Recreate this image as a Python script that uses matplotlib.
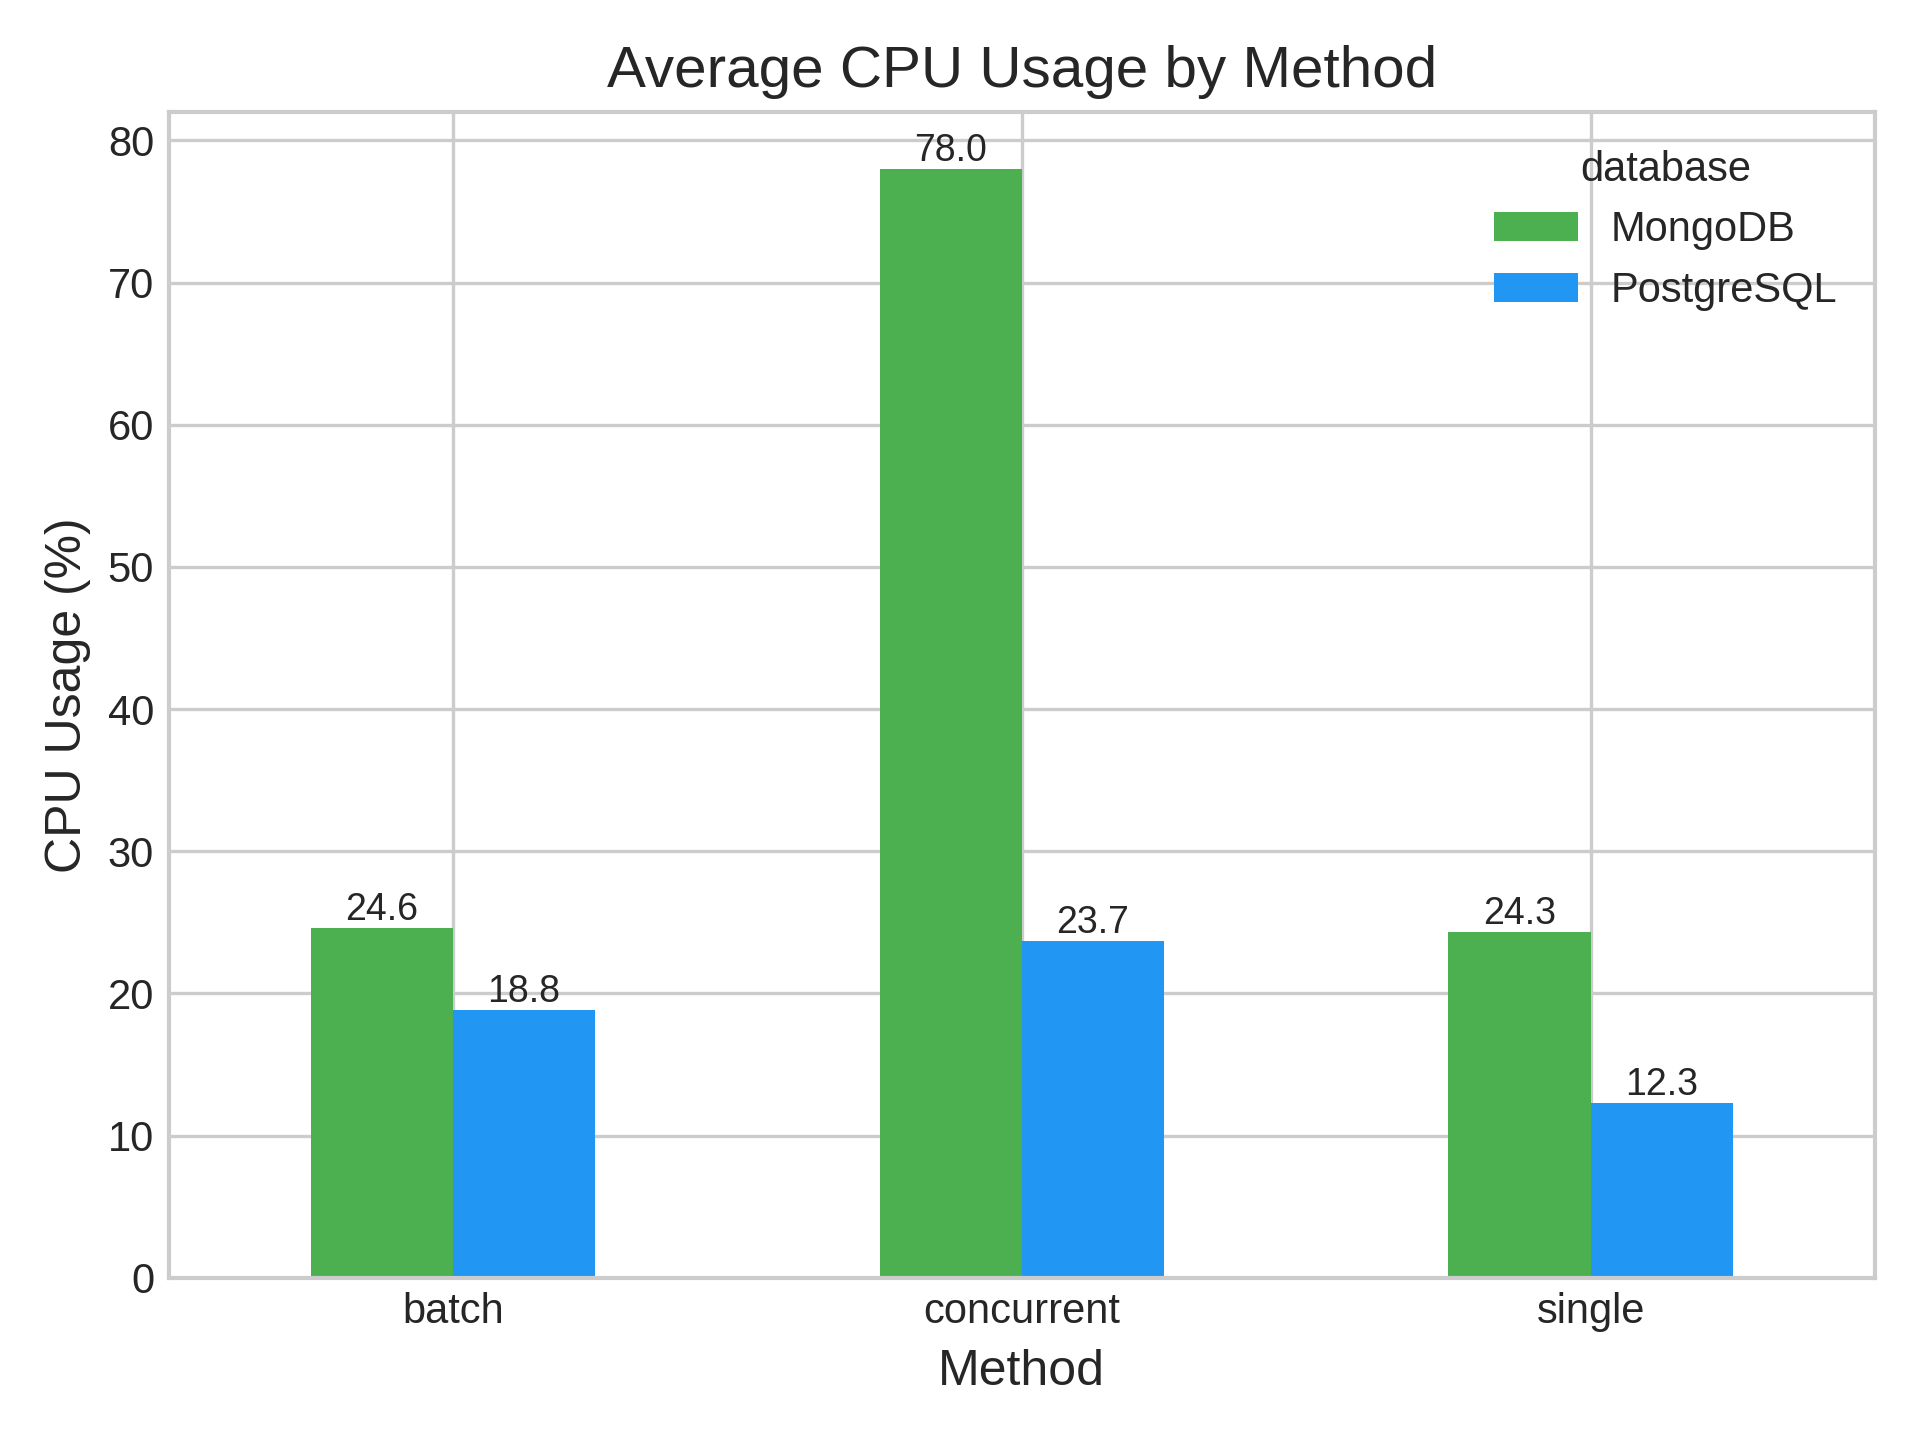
import pandas as pd
import matplotlib
matplotlib.use("Agg")
import matplotlib.pyplot as plt

# values
methods = ["batch", "concurrent", "single"]
mongodb = [24.6, 78.0, 24.3]
postgres = [18.8, 23.7, 12.3]
colors = ["#4CAF50", "#2196F3"]

plt.style.use("seaborn-v0_8-whitegrid")
plt.rcParams['font.family'] = ['Liberation Sans', 'DejaVu Sans']

df = pd.DataFrame({"MongoDB": mongodb, "PostgreSQL": postgres}, index=methods)
df.index.name = "method"
df.columns.name = "database"

fig, ax = plt.subplots(figsize=(6.4, 4.8), dpi=300)
df.plot(kind="bar", ax=ax, color=colors, rot=0, width=0.5)

for cont in ax.containers:
	ax.bar_label(cont, fmt="%.1f", fontsize=9, color="#262626", padding=0)

ax.set_title("Average CPU Usage by Method", fontsize=14, color="#262626")
ax.set_xlabel("Method", fontsize=12, color="#262626")
ax.set_ylabel("CPU Usage (%)", fontsize=12, color="#262626")
ax.tick_params(labelsize=10, colors="#262626")
ax.set_ylim(0, 82)
for sp in ax.spines.values():
	sp.set_visible(True)
	sp.set_color("#cccccc")
	sp.set_linewidth(1.0)

leg = ax.legend(title="database", fontsize=10, title_fontsize=10, frameon=False, loc="upper right")

plt.tight_layout()
plt.savefig("out.png", dpi=300)
